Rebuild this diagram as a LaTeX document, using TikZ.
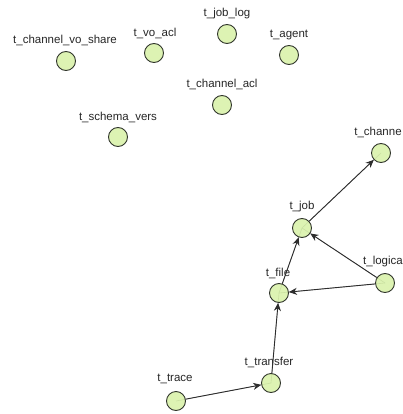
\documentclass[tikz,border=0pt]{standalone}
\usepackage{fontspec}
\setmainfont{Liberation Sans}
\usetikzlibrary{arrows.meta,backgrounds}
\definecolor{vfill}{RGB}{212,240,160}
\definecolor{vline}{RGB}{50,55,45}
\definecolor{eline}{RGB}{45,45,45}
\tikzset{
  vtx/.style={circle,draw=vline,line width=0.9pt,fill=vfill,fill opacity=0.8,
    minimum size=19pt,inner sep=0pt},
  lbl/.style={font=\fontsize{11.5}{12}\selectfont,text=black!85,inner sep=0pt},
  rel/.style={draw=eline,line width=0.9pt,-{Stealth[length=8pt,width=7pt,inset=2.5pt]}},
  trace/.style={draw=gray!70,line width=0.6pt}
}
% \vtx{name}{x}{y}{label x}{label y}{text}
\newcommand{\vtx}[6]{%
  \node[vtx] (#1) at (#2,#3) {};
  \node[lbl] (#1-l) at (#4,#5) {#6};}
\begin{document}
\begin{tikzpicture}[x=1pt,y=-1pt]
\useasboundingbox (0,0) rectangle (403,414);
\clip (0,0) rectangle (403,414);
% tables
\vtx{vo_share}{66}{61}{65}{40}{t\_channel\_vo\_share}
\vtx{vo_acl}{154}{53}{155}{33}{t\_vo\_acl}
\vtx{job_log}{227}{34}{227}{14}{t\_job\_log}
\vtx{agent}{289}{55}{289}{35}{t\_agent}
\vtx{ch_acl}{222}{105}{222}{84}{t\_channel\_acl}
\vtx{schema}{118}{137}{118}{117}{t\_schema\_vers}
\vtx{channel}{381}{153}{378}{132}{t\_channe}
\vtx{job}{302}{228}{302}{207}{t\_job}
\vtx{logical}{385}{283}{383}{262}{t\_logica}
\vtx{file}{279}{293}{278}{273}{t\_file}
\vtx{transfer}{271}{383}{269}{362}{t\_transfer}
\vtx{tracetab}{176}{401}{175}{379}{t\_trace}
% faint centre lines seen through the discs
\begin{scope}[on background layer]
\foreach \a/\b in {job/channel,logical/job,logical/file,file/job,transfer/file,tracetab/transfer}
  \draw[trace] (\a.center) -- (\b.center);
\end{scope}
% references
\draw[rel] (job) -- (channel);
\draw[rel] (logical) -- (job);
\draw[rel] (logical) -- (file);
\draw[rel] (file) -- (job);
\draw[rel] (transfer) -- (file);
\draw[rel] (tracetab) -- (transfer);
\end{tikzpicture}
\end{document}
